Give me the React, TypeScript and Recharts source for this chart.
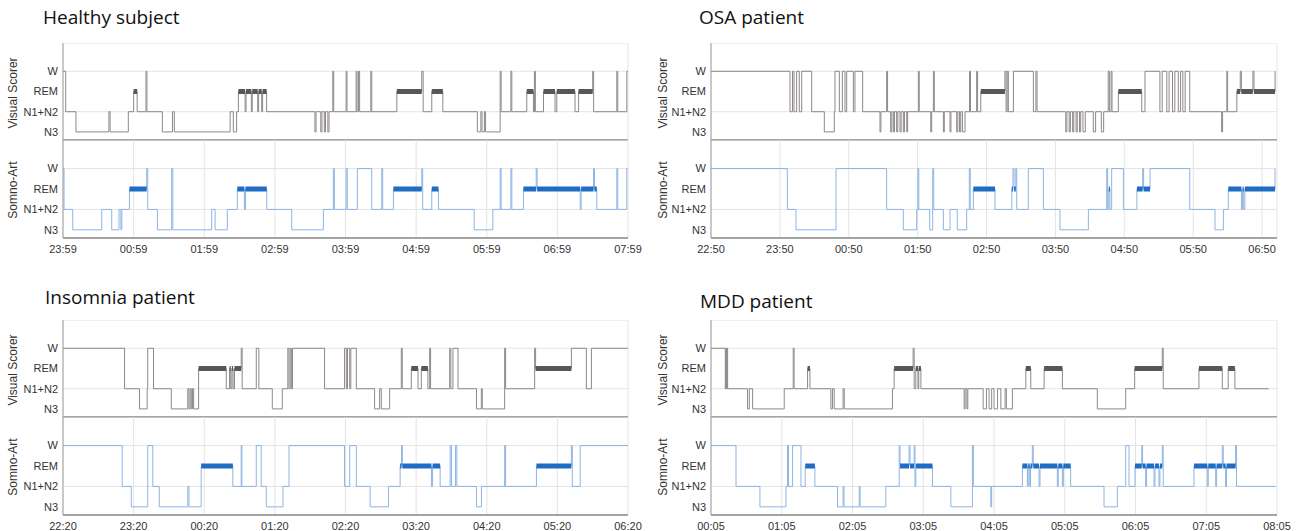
import React from 'react'
import { LineChart, Line, XAxis, YAxis, CartesianGrid } from 'recharts'

// stage codes: 0 = N3, 1 = N1+N2, 2 = REM, 3 = W
const stageLabels = ['N3', 'N1+N2', 'REM', 'W']
const hourTicks = [0, 60, 120, 180, 240, 300, 360, 420, 480]

// change points: [minutes from recording start, stage]
const healthyVisual = [
  [0, 3], [2.3, 1], [11, 0], [39, 1], [40, 0], [55.5, 1], [60, 2], [63, 1], [70.5, 3], [71.3, 1],
  [84.4, 0], [93, 1], [94.6, 0], [142, 1], [144.7, 0], [147.5, 1], [149, 2], [154.7, 1], [155.5, 2],
  [160, 1], [160.8, 2], [165.4, 1], [166.2, 2], [168.8, 1], [169.6, 2], [173, 1], [214, 0], [215, 1],
  [219, 0], [220, 1], [222, 0], [223, 1], [225, 0], [226, 1], [229.2, 3], [230, 1], [240.5, 3],
  [241.3, 1], [249, 3], [249.8, 1], [251, 3], [252, 1], [261.5, 3], [262.3, 1], [283.6, 2], [304.8, 3],
  [306, 1], [313.3, 2], [322.7, 1], [352, 0], [355, 1], [356, 0], [358, 1], [359, 0], [371.4, 3],
  [372.2, 1], [380.5, 3], [381.3, 1], [394, 2], [399.7, 1], [400.5, 3], [401.3, 1], [408.2, 2], [418, 1],
  [419.5, 2], [435, 1], [438, 2], [450, 3], [450.8, 1], [470.5, 3], [471.3, 1], [479, 3], [480, 3],
]
const healthySomno = [
  [0, 3], [0.9, 1], [8.3, 0], [32.9, 1], [41.4, 0], [47.6, 1], [49.2, 0], [50, 1], [56.4, 2], [71.1, 3],
  [72, 1], [80.2, 0], [92.3, 3], [93.3, 0], [126.3, 1], [129.2, 0], [139.6, 1], [148.1, 2], [154.1, 1],
  [155, 2], [173.1, 1], [194.3, 0], [221.2, 1], [229.7, 3], [230.5, 1], [240.5, 3], [241.5, 1], [250.1, 3],
  [262.3, 1], [270.8, 3], [271.6, 1], [280.7, 2], [304.8, 3], [305.6, 1], [313.3, 2], [319, 1], [349.3, 0],
  [365.2, 1], [371.4, 3], [372.2, 1], [380.5, 3], [381.3, 1], [391.2, 2], [402, 3], [402.8, 2], [439.4, 1],
  [440.2, 2], [450.7, 3], [451.5, 2], [453.5, 1], [470.5, 3], [471.3, 1], [479, 3], [480, 3],
]

const osaVisual = [
  [0, 3], [68.8, 1], [71, 3], [72.3, 1], [74.6, 3], [76.9, 1], [79, 3], [87.7, 1], [98.7, 0], [107.4, 1],
  [108, 3], [111.8, 1], [114.4, 3], [116.7, 1], [118.2, 3], [124, 1], [125.4, 3], [132.1, 1], [147.2, 0],
  [148, 1], [153, 3], [153.8, 1], [156.5, 0], [157.5, 1], [158.8, 0], [159.8, 1], [161.7, 0], [162.7, 1],
  [164.6, 0], [165.6, 1], [167.5, 0], [168.5, 1], [170.5, 0], [171.3, 1], [180.6, 3], [181.4, 1],
  [191.4, 0], [192.2, 1], [193.7, 3], [194.5, 1], [202.4, 0], [203.2, 1], [208.2, 0], [209, 1], [214, 0],
  [215, 1], [216.5, 0], [217.5, 1], [219, 0], [221.3, 1], [225.2, 3], [226, 1], [231.4, 3], [232.2, 1],
  [235, 2], [256, 3], [257, 1], [258, 3], [259, 1], [263.4, 3], [280.8, 1], [283, 3], [284, 1], [309, 0],
  [310, 1], [312, 0], [313, 1], [315, 0], [316, 1], [318, 0], [319, 1], [321, 0], [322, 1], [324, 0],
  [326, 1], [333, 0], [335, 1], [340, 0], [342, 1], [346, 3], [347, 1], [348.5, 3], [349.3, 1], [354.8, 2],
  [375.2, 1], [378, 3], [391, 1], [393, 3], [397, 1], [399, 3], [402, 1], [404, 3], [407, 1], [409, 3],
  [411, 1], [413, 3], [417, 1], [444.8, 0], [445.6, 1], [449.3, 3], [450, 1], [458, 2], [461, 3], [462, 2],
  [472, 3], [473, 2], [491.3, 3],
]
const osaSomno = [
  [0, 3], [66.5, 1], [74, 0], [108.9, 3], [153, 1], [167.5, 0], [179.2, 1], [180.2, 3], [181, 1], [190.5, 0],
  [193.1, 3], [194, 1], [202.4, 0], [208.2, 1], [214.5, 0], [222.7, 1], [225, 3], [225.8, 1], [228.5, 2],
  [247.4, 1], [262, 2], [263, 3], [264, 2], [265.5, 3], [266.3, 1], [276.4, 3], [289.5, 1], [304, 0],
  [328.7, 1], [344.7, 3], [345.5, 1], [346.5, 2], [347.5, 1], [349, 3], [359.2, 1], [371, 2], [376, 3],
  [376.8, 2], [382.4, 3], [417, 1], [439, 0], [446.3, 1], [450.6, 2], [462, 1], [463, 2], [464, 1],
  [465, 2], [491.3, 3],
]

const insomniaVisual = [
  [0, 3], [52.3, 1], [65, 0], [71.5, 1], [72, 3], [76.9, 1], [92, 0], [106, 1], [107, 0], [108, 1],
  [109, 0], [110, 1], [111, 0], [115.2, 2], [138.7, 1], [141.5, 2], [142.5, 1], [143.5, 2], [144.5, 1],
  [145.7, 2], [151.4, 3], [152.2, 1], [164.2, 3], [166.4, 1], [177.8, 0], [186.3, 1], [191, 3], [192, 1],
  [193, 3], [194, 1], [195, 3], [222.2, 1], [239.2, 3], [240.7, 1], [241.7, 3], [243.6, 1], [244.5, 3],
  [249.2, 1], [264.7, 0], [269, 1], [270.4, 0], [277.5, 1], [287.4, 3], [288.2, 1], [295.9, 2], [301.6, 1],
  [304.4, 2], [310, 1], [311.5, 3], [312.3, 1], [328.5, 3], [329.5, 1], [331.3, 3], [335.6, 1], [351.3, 0],
  [355.4, 1], [356.2, 0], [375.2, 3], [376, 1], [400.7, 3], [401.5, 2], [431.9, 3], [444.6, 1], [448.9, 3],
  [480, 3],
]
const insomniaSomno = [
  [0, 3], [50.3, 1], [58, 0], [72, 3], [76.3, 1], [81.8, 0], [106, 1], [107, 0], [117.4, 2], [144.3, 1],
  [151.4, 3], [152, 1], [164.2, 3], [168.4, 1], [172.7, 0], [186.9, 1], [192, 3], [239.2, 1], [243.6, 3],
  [249.2, 1], [260.9, 0], [276.5, 1], [286.4, 2], [287.6, 3], [288.3, 2], [313, 1], [314, 2], [320.4, 1],
  [328.9, 3], [330, 1], [333.5, 3], [334.6, 1], [351.3, 0], [355.5, 1], [375.2, 3], [376, 1], [402.2, 2],
  [431.9, 3], [432.7, 1], [439.4, 3], [480, 3],
]

const mddVisual = [
  [0, 3], [12.1, 1], [12.6, 3], [13.1, 1], [13.6, 3], [14.1, 1], [31, 0], [32.5, 1], [35.3, 0], [62.1, 1],
  [69.7, 3], [70.5, 1], [81.9, 2], [83.9, 1], [101.7, 0], [103, 1], [104.5, 0], [112, 1], [113, 0],
  [153.9, 1], [155.3, 2], [171.4, 3], [172.3, 1], [173.7, 2], [175.5, 1], [176.2, 2], [178, 1], [214.7, 0],
  [215.5, 1], [217, 0], [217.8, 1], [230.8, 0], [233.6, 1], [235.8, 0], [238, 1], [240, 0], [243, 1],
  [245.8, 0], [249.4, 1], [250.5, 0], [255.6, 1], [267, 2], [271.2, 1], [282.5, 2], [298, 1], [327.6, 0],
  [351.7, 1], [359.3, 2], [382.7, 3], [383.5, 1], [413.8, 2], [433.6, 1], [438.6, 2], [444.3, 1], [473, 1],
]
const mddSomno = [
  [0, 3], [21.2, 1], [41.5, 0], [63.6, 1], [64.9, 3], [65.7, 1], [69.2, 3], [76.3, 1], [79.9, 2], [88.1, 1],
  [107.3, 0], [112, 1], [112.8, 0], [125.7, 1], [126.5, 0], [148.3, 1], [159.6, 3], [160.3, 2], [168, 3],
  [168.8, 2], [172.3, 3], [173, 1], [173.7, 2], [187.8, 1], [203.4, 0], [221.7, 3], [222.5, 1], [237.3, 0],
  [238, 1], [264.1, 2], [268.3, 1], [269, 2], [270.3, 1], [271, 2], [272.5, 3], [273.3, 2], [278.2, 1],
  [279, 2], [293.7, 1], [294.5, 2], [298, 1], [298.8, 2], [305, 1], [333.3, 0], [344.6, 1], [351.7, 3],
  [354.5, 1], [359.6, 2], [365.3, 3], [366, 2], [368.6, 1], [369.4, 2], [375.7, 1], [376.5, 2], [379.9, 1],
  [380.7, 2], [382.7, 3], [383.5, 1], [409.6, 2], [420.9, 1], [421.7, 2], [428, 1], [428.8, 2], [433.6, 3],
  [434.4, 2], [436.4, 1], [437.2, 2], [444.9, 3], [445.7, 1], [478.8, 1],
]

const FONT = '"Liberation Sans", Arial, sans-serif'
const visualColors = { thin: '#8e8888', thick: '#575757' }
const somnoColors = { thin: '#8db4e4', thick: '#1f6cc5' }

function toLine(steps: number[][]) {
  return steps.map(([t, s]) => ({ t, v: s }))
}

function toRem(steps: number[][]) {
  const out: { t: number; r: number | null }[] = []
  for (let i = 0; i < steps.length - 1; i++) {
    if (steps[i][1] === 2) {
      out.push({ t: steps[i][0], r: 2 }, { t: steps[i + 1][0], r: 2 }, { t: steps[i + 1][0], r: null })
    }
  }
  return out
}

function clock(startMin: number) {
  return (m: number) => {
    const total = (startMin + m) % 1440
    const h = Math.floor(total / 60)
    const mm = Math.round(total % 60)
    return `${String(h).padStart(2, '0')}:${String(mm).padStart(2, '0')}`
  }
}

interface HypnoProps {
  steps: number[][]
  end: number
  start: number
  left: number
  top: number
  axisW: number
  plotW: number
  bottom?: boolean
  colors: { thin: string; thick: string }
}

function Hypno({ steps, end, start, left, top, axisW, plotW, bottom, colors }: HypnoProps) {
  const plotH = bottom ? 98 : 97
  const xh = bottom ? 22 : 1
  return (
    <div style={{ position: 'absolute', left, top }}>
      <LineChart
        width={axisW + plotW + 20}
        height={plotH + xh}
        margin={{ top: 0, right: 20, bottom: 0, left: 0 }}
      >
        <CartesianGrid stroke="#e4e4e4" />
        <XAxis
          dataKey="t"
          type="number"
          domain={[0, end]}
          ticks={hourTicks}
          interval={0}
          allowDataOverflow
          height={xh}
          tick={bottom ? { fontSize: 11, fill: '#333', fontFamily: FONT } : false}
          tickFormatter={clock(start)}
          tickLine={false}
          tickSize={4}
          tickMargin={3}
          axisLine={{ stroke: '#8a8a8a', strokeWidth: 1.5 }}
        />
        <YAxis
          type="number"
          domain={[-0.4, 4.4]}
          ticks={[0, 1, 2, 3]}
          width={axisW}
          allowDataOverflow
          tickFormatter={(v: number) => stageLabels[v]}
          tickLine={false}
          tickSize={3}
          tickMargin={2}
          axisLine={{ stroke: '#a0a0a0' }}
          tick={{ fontSize: 11, fill: '#333', fontFamily: FONT }}
        />
        <Line
          data={toLine(steps)}
          dataKey="v"
          type="stepAfter"
          stroke={colors.thin}
          strokeWidth={1}
          dot={false}
          activeDot={false}
          isAnimationActive={false}
        />
        <Line
          data={toRem(steps)}
          dataKey="r"
          type="linear"
          stroke={colors.thick}
          strokeWidth={5}
          dot={false}
          activeDot={false}
          connectNulls={false}
          isAnimationActive={false}
        />
      </LineChart>
    </div>
  )
}

function SideLabel({ text, x, y }: { text: string; x: number; y: number }) {
  return (
    <div
      style={{
        position: 'absolute', left: x, top: y, transform: 'translate(-50%, -50%) rotate(-90deg)',
        whiteSpace: 'nowrap', fontFamily: FONT, fontSize: 12, color: '#333',
      }}
    >
      {text}
    </div>
  )
}

function Title({ text, x, y }: { text: string; x: number; y: number }) {
  return (
    <div
      style={{
        position: 'absolute', left: x, top: y, fontFamily: '"Open Sans", sans-serif',
        fontSize: 19, lineHeight: '19px', color: '#111', whiteSpace: 'nowrap',
      }}
    >
      {text}
    </div>
  )
}

interface PanelProps {
  title: string
  visual: number[][]
  somno: number[][]
  start: number
  end: number
  x: number
  axisW: number
  plotW: number
  top: number
  titleX: number
  titleY: number
}

function Panel({ title, visual, somno, start, end, x, axisW, plotW, top, titleX, titleY }: PanelProps) {
  return (
    <>
      <Title text={title} x={titleX} y={titleY} />
      <SideLabel text="Visual Scorer" x={x + 13} y={top + 50} />
      <SideLabel text="Somno-Art" x={x + 13} y={top + 147} />
      <Hypno steps={visual} end={end} start={start} left={x} top={top} axisW={axisW} plotW={plotW} colors={visualColors} />
      <Hypno steps={somno} end={end} start={start} left={x} top={top + 97} axisW={axisW} plotW={plotW} bottom colors={somnoColors} />
    </>
  )
}

export default function App() {
  return (
    <div style={{ position: 'absolute', left: 0, top: 0, width: 1299, height: 531, background: '#fff', overflow: 'hidden' }}>
      <Panel title="Healthy subject" visual={healthyVisual} somno={healthySomno} start={23 * 60 + 59} end={480}
        x={0} axisW={63} plotW={565} top={43} titleX={43} titleY={8} />
      <Panel title="OSA patient" visual={osaVisual} somno={osaSomno} start={22 * 60 + 50} end={493}
        x={650} axisW={61} plotW={566} top={43} titleX={699} titleY={8} />
      <Panel title="Insomnia patient" visual={insomniaVisual} somno={insomniaSomno} start={22 * 60 + 20} end={480}
        x={0} axisW={63} plotW={565} top={320} titleX={45} titleY={288} />
      <Panel title="MDD patient" visual={mddVisual} somno={mddSomno} start={5} end={480}
        x={650} axisW={61} plotW={566} top={320} titleX={700} titleY={292} />
    </div>
  )
}
